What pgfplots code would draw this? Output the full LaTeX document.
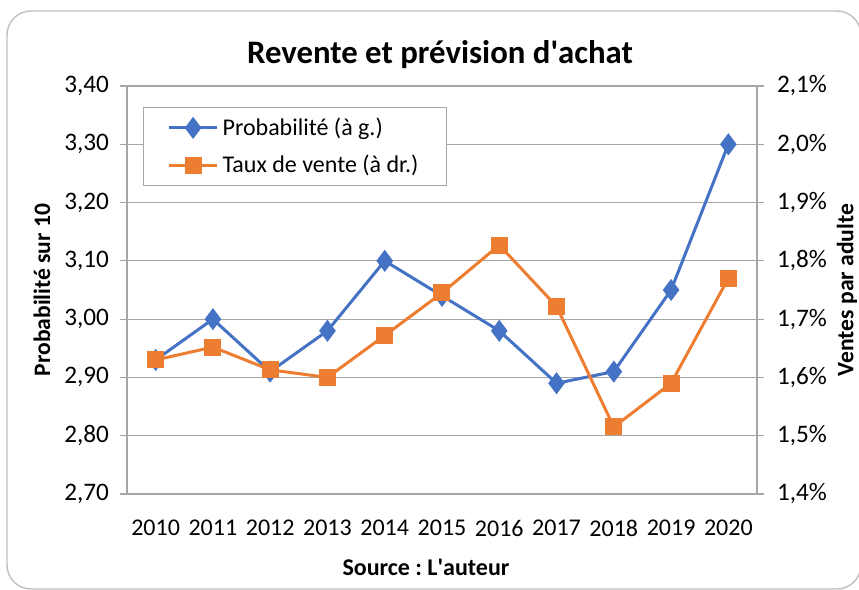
\documentclass[border=0pt]{standalone}
\usepackage{pgfplots}
\pgfplotsset{compat=1.18}
\usepackage{fontspec}
\setmainfont{Carlito}
\frenchspacing
\definecolor{cblue}{HTML}{4472C4}
\definecolor{corange}{HTML}{ED7D31}
\definecolor{cgrid}{HTML}{A6A6A6}
\definecolor{cframe}{HTML}{BFBFBF}
\begin{document}
\begin{tikzpicture}[x=0.5pt,y=0.5pt]
\useasboundingbox (0,0) rectangle (859,590);
\draw[cframe,line width=0.7pt,rounded corners=12pt] (7,1) rectangle (861,579);
\pgfplotsset{
  base/.style={
    scale only axis, width=315pt, height=204pt,
    at={(63.5pt,48pt)}, anchor=south west,
    xmin=-0.5, xmax=10.5,
    tick align=outside,
    major tick length=3.5pt,
    every tick/.style={cgrid, line width=0.6pt},
    tick label style={font=\fontsize{12.6}{15}\selectfont},
    /pgf/number format/assume math mode=true,
  }
}
\begin{axis}[base,
  ymin=2.70, ymax=3.40, ytick={2.7,2.8,...,3.41},
  axis x line*=bottom, axis y line*=left,
  axis line style={cgrid, line width=0.6pt},
  ymajorgrids, grid style={cgrid, line width=0.6pt},
  yticklabel={\pgfmathprintnumber[fixed,fixed zerofill,precision=2,use comma]{\tick}},
  yticklabel style={xshift=-2pt},
  xtick={0,...,10},
  xticklabels={2010,2011,2012,2013,2014,2015,2016,2017,2018,2019,2020},
  xtick style={draw=none},
  minor xtick={-0.5,0.5,...,10.5},
  minor tick length=3.5pt,
  xticklabel style={yshift=-6pt, font=\fontsize{12}{14}\selectfont},
  legend style={at={(0.0254,0.9485)}, anchor=north west, draw=cgrid, line width=0.6pt, fill=white,
    font=\fontsize{12}{14}\selectfont, inner xsep=12pt, inner ysep=3pt, row sep=4.5pt,
    cells={anchor=west}},
  legend image code/.code={\draw[#1, mark=none] (0pt,0pt) -- (24pt,0pt);
     \draw[#1] plot coordinates {(12pt,0pt)};},
]
\addplot[cblue, line width=1.5pt, mark=diamond*, mark size=4.3pt, mark options={solid}] coordinates {
(0,2.93) (1,3.00) (2,2.91) (3,2.98) (4,3.10) (5,3.04) (6,2.98) (7,2.89) (8,2.91) (9,3.05) (10,3.30)};
\addlegendentry{Probabilité (à g.)}
\addlegendimage{corange, line width=1.5pt, mark=square*, mark size=3.5pt}
\addlegendentry{Taux de vente (à dr.)}
\end{axis}
\begin{axis}[base,
  ymin=1.4, ymax=2.1, ytick={1.4,1.5,...,2.11},
  axis x line=none, axis y line*=right,
  axis line style={cgrid, line width=0.6pt},
  yticklabel={\pgfmathprintnumber[fixed,fixed zerofill,precision=1,use comma]{\tick}\%},
  yticklabel style={xshift=3pt},
]
\addplot[corange, line width=1.5pt, mark=square*, mark size=3.5pt] coordinates {
(0,1.630) (1,1.652) (2,1.613) (3,1.600) (4,1.672) (5,1.745) (6,1.827) (7,1.722) (8,1.515) (9,1.590) (10,1.770)};
\end{axis}
\node[font=\fontsize{16.4}{19}\selectfont\bfseries] at (440,535) {Revente et prévision d\textquotesingle achat};
\node[font=\fontsize{12}{14}\selectfont\bfseries] at (426,23) {Source : L\textquotesingle auteur};
\node[font=\fontsize{11.8}{14}\selectfont\bfseries, rotate=90] at (42,300) {Probabilité sur 10};
\node[font=\fontsize{11.8}{14}\selectfont\bfseries, rotate=90] at (847,300) {Ventes par adulte};
\end{tikzpicture}
\end{document}
